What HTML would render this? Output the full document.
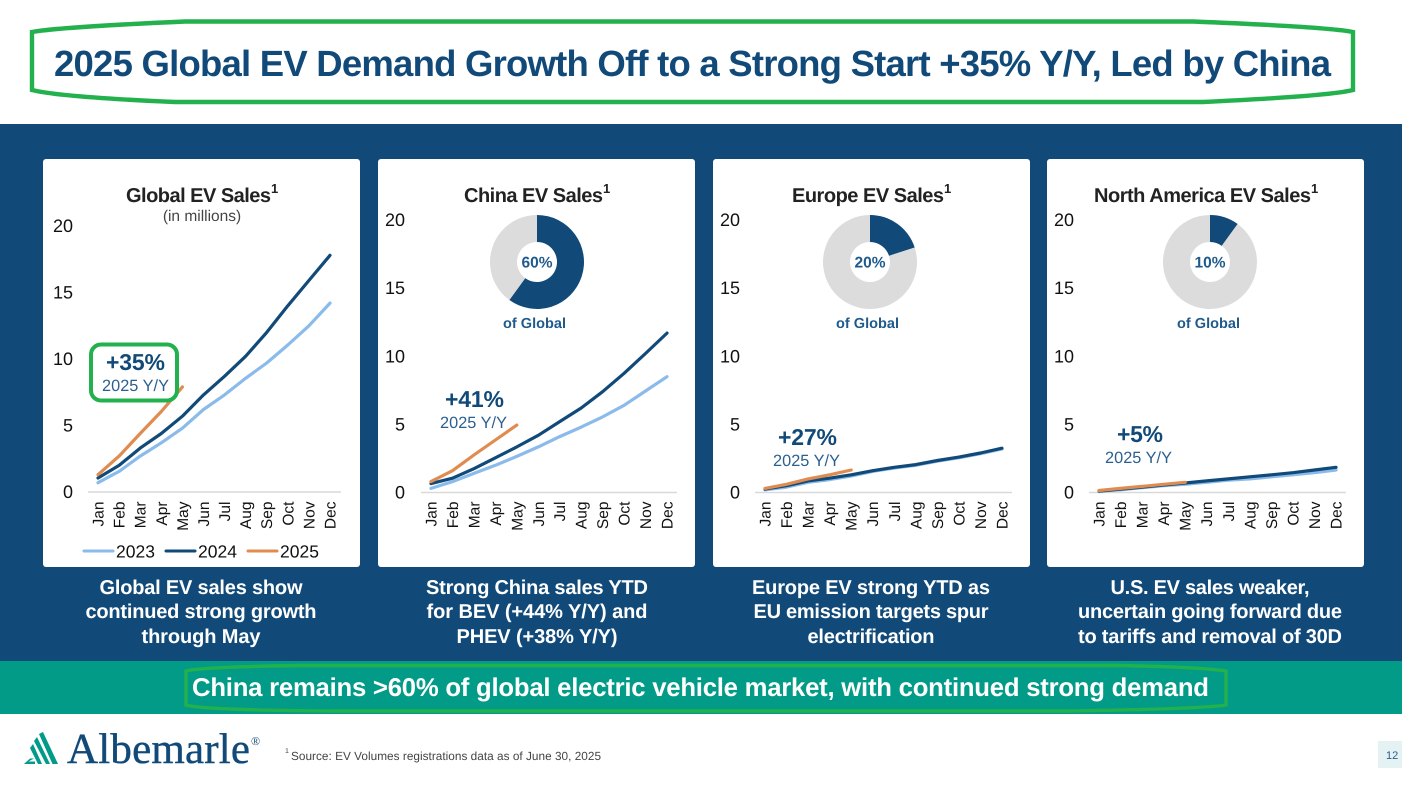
<!DOCTYPE html>
<html lang="en">
<head>
<meta charset="utf-8">
<title>2025 Global EV Demand</title>
<style>
html,body{margin:0;padding:0;background:#fff;width:1402px;height:786px;overflow:hidden}
svg{display:block;text-rendering:geometricPrecision}
text{font-family:"Liberation Sans",Arial,sans-serif}
.b{font-weight:700}
.ct{font-size:20px;font-weight:700;fill:#222}
.cap{font-size:20px;font-weight:700;fill:#fff;text-anchor:middle}
.pct{font-size:23px;font-weight:700;fill:#114a79}
.yy{font-size:16.300px;fill:#2a5f8f}
.og{font-size:14.500px;font-weight:700;fill:#1f5a8c}
</style>
</head>
<body>
<svg id="slide" xmlns="http://www.w3.org/2000/svg" width="1402" height="786" viewBox="0 0 1402 786">
  <rect width="1402" height="786" fill="#fff"/>
  <path d="M32 32 Q60 27 185 21.5 L1193 21.5 Q1330 27 1353 32 L1353 90 Q1330 96 1203 102 L175 102 Q60 97 32 90 Z" fill="none" stroke="#22b14c" stroke-width="4.4"/>
  <text x="54" y="76" class="b" font-size="36.500" fill="#114a79" textLength="1277" lengthAdjust="spacing">2025 Global EV Demand Growth Off to a Strong Start +35% Y/Y, Led by China</text>

  <rect x="0" y="124" width="1402" height="537" fill="#114a79"/>
  <rect x="43" y="159" width="317" height="408" rx="3" fill="#fff"/>
  <rect x="378" y="159" width="317" height="408" rx="3" fill="#fff"/>
  <rect x="713" y="159" width="317" height="408" rx="3" fill="#fff"/>
  <rect x="1047" y="159" width="317" height="408" rx="3" fill="#fff"/>

  <text x="126" y="202" class="ct" textLength="145" lengthAdjust="spacing">Global EV Sales</text>
  <text x="271" y="193" class="b" font-size="13" fill="#222">1</text>
  <text x="202" y="221" font-size="15.500" fill="#444" text-anchor="middle">(in millions)</text>
  <text x="464" y="202" class="ct" textLength="139" lengthAdjust="spacing">China EV Sales</text>
  <text x="603" y="193" class="b" font-size="13" fill="#222">1</text>
  <text x="792" y="202" class="ct" textLength="152" lengthAdjust="spacing">Europe EV Sales</text>
  <text x="944" y="193" class="b" font-size="13" fill="#222">1</text>
  <text x="1094" y="202" class="ct" textLength="217" lengthAdjust="spacing">North America EV Sales</text>
  <text x="1311" y="193" class="b" font-size="13" fill="#222">1</text>

  <g id="charts"></g>

  <rect x="91" y="344.500" width="86" height="56" rx="10" fill="#fff" stroke="#22b14c" stroke-width="4"/>
  <text x="106" y="370" class="pct" textLength="59" lengthAdjust="spacing">+35%</text>
  <text x="102" y="391" class="yy" textLength="67" lengthAdjust="spacing">2025 Y/Y</text>
  <text x="445" y="407" class="pct" textLength="59" lengthAdjust="spacing">+41%</text>
  <text x="440" y="428" class="yy" textLength="67" lengthAdjust="spacing">2025 Y/Y</text>
  <text x="778" y="445" class="pct" textLength="59" lengthAdjust="spacing">+27%</text>
  <text x="773" y="466" class="yy" textLength="67" lengthAdjust="spacing">2025 Y/Y</text>
  <text x="1117" y="442" class="pct" textLength="46" lengthAdjust="spacing">+5%</text>
  <text x="1105" y="463" class="yy" textLength="67" lengthAdjust="spacing">2025 Y/Y</text>

  <text x="503" y="328" class="og" textLength="63" lengthAdjust="spacing">of Global</text>
  <text x="836" y="328" class="og" textLength="63" lengthAdjust="spacing">of Global</text>
  <text x="1177" y="328" class="og" textLength="63" lengthAdjust="spacing">of Global</text>

  <g>
    <text x="201" y="594" class="cap" textLength="203" lengthAdjust="spacing">Global EV sales show</text>
    <text x="201" y="618" class="cap" textLength="231" lengthAdjust="spacing">continued strong growth</text>
    <text x="201" y="643" class="cap" textLength="119" lengthAdjust="spacing">through May</text>
  </g>
  <g>
    <text x="537" y="594" class="cap" textLength="222" lengthAdjust="spacing">Strong China sales YTD</text>
    <text x="537" y="618" class="cap" textLength="221" lengthAdjust="spacing">for BEV (+44% Y/Y) and</text>
    <text x="537" y="643" class="cap" textLength="161" lengthAdjust="spacing">PHEV (+38% Y/Y)</text>
  </g>
  <g>
    <text x="871" y="594" class="cap" textLength="238" lengthAdjust="spacing">Europe EV strong YTD as</text>
    <text x="871" y="618" class="cap" textLength="235" lengthAdjust="spacing">EU emission targets spur</text>
    <text x="871" y="643" class="cap" textLength="127" lengthAdjust="spacing">electrification</text>
  </g>
  <g>
    <text x="1210" y="594" class="cap" textLength="199" lengthAdjust="spacing">U.S. EV sales weaker,</text>
    <text x="1210" y="618" class="cap" textLength="264" lengthAdjust="spacing">uncertain going forward due</text>
    <text x="1210" y="643" class="cap" textLength="264" lengthAdjust="spacing">to tariffs and removal of 30D</text>
  </g>

  <rect x="0" y="661" width="1402" height="53" fill="#029b88"/>
  <path d="M186 671 Q200 667 300 665.5 L1115 665.5 Q1200 667 1226 671 L1226 705 Q1200 709 1070 711 L335 711 Q200 710 186 705 Z" fill="none" stroke="#22b14c" stroke-width="3.400"/>
  <text x="192" y="696" class="b" font-size="25.700" fill="#fff" textLength="1017" lengthAdjust="spacing">China remains &gt;60% of global electric vehicle market, with continued strong demand</text>

  <g>
    <path d="M24 764 L30 758.500 L34 758.500 L28.500 761.500 L35 761.500 L35 764 Z M30 748 L33 744 L42 764 L38 764 Z M34 741 L37 737 L50 764 L46 764 Z M39 734 L43 732 L58 764 L52.500 764 Z" fill="#029b88"/>
    <text x="67" y="763" font-size="43" fill="#114a79" stroke="#114a79" stroke-width="0.400" style="font-family:'Liberation Serif',serif" textLength="183" lengthAdjust="spacing">Albemarle</text>
    <text x="251" y="745" font-size="12" fill="#114a79" style="font-family:'Liberation Serif',serif">®</text>
  </g>
  <text x="285" y="753" font-size="7" fill="#444">1</text>
  <text x="291" y="760" font-size="11.800" fill="#444" textLength="310" lengthAdjust="spacing">Source: EV Volumes registrations data as of June 30, 2025</text>
  <rect x="1378" y="741" width="24" height="27" fill="#e5f2f4"/>
  <text x="1386" y="759" font-size="11" fill="#2a5f8f">12</text>
</svg>

<script>
var categories = ['Jan','Feb','Mar','Apr','May','Jun','Jul','Aug','Sep','Oct','Nov','Dec'];
var yTickLabels = [0, 5, 10, 15, 20];
var legendYears = ['2023', '2024', '2025'];

var global2023 = [0.7, 1.55, 2.7, 3.7, 4.8, 6.2, 7.3, 8.55, 9.7, 11.05, 12.5, 14.2];
var global2024 = [1.05, 2.0, 3.3, 4.4, 5.7, 7.3, 8.7, 10.2, 12.0, 14.0, 15.9, 17.8];
var global2025 = [1.3, 2.7, 4.4, 6.05, 7.9];

var china2023 = [0.3, 0.8, 1.4, 2.0, 2.65, 3.35, 4.1, 4.8, 5.55, 6.4, 7.45, 8.5];
var china2024 = [0.65, 1.05, 1.75, 2.55, 3.35, 4.2, 5.2, 6.2, 7.4, 8.75, 10.2, 11.7];
var china2025 = [0.8, 1.6, 2.75, 3.85, 4.95];

var europe2023 = [0.2, 0.4, 0.75, 0.95, 1.2, 1.55, 1.8, 2.0, 2.3, 2.55, 2.85, 3.2];
var europe2024 = [0.25, 0.5, 0.85, 1.05, 1.3, 1.6, 1.85, 2.05, 2.35, 2.6, 2.9, 3.25];
var europe2025 = [0.3, 0.6, 1.0, 1.3, 1.65];

var northAmerica2023 = [0.1, 0.2, 0.35, 0.5, 0.6, 0.75, 0.9, 1.0, 1.15, 1.3, 1.45, 1.65];
var northAmerica2024 = [0.1, 0.25, 0.4, 0.55, 0.7, 0.85, 1.0, 1.15, 1.3, 1.45, 1.65, 1.85];
var northAmerica2025 = [0.15, 0.3, 0.45, 0.6, 0.75];

var chinaShare = [60, 40];
var europeShare = [20, 80];
var northAmericaShare = [10, 90];

var NS = 'http://www.w3.org/2000/svg';
var COLORS = { y2023: '#8abbea', y2024: '#114a79', y2025: '#e08c50' };
var chartsRoot = document.getElementById('charts');

var panels = [
  { key: 'global', s23: global2023, s24: global2024, s25: global2025, x0: 98, x1: 330, axisL: 88, axisR: 341, y0: 492, y20: 226, labelR: 73 },
  { key: 'china', s23: china2023, s24: china2024, s25: china2025, x0: 431, x1: 667, axisL: 421, axisR: 677, y0: 492.5, y20: 220, labelR: 405 },
  { key: 'europe', s23: europe2023, s24: europe2024, s25: europe2025, x0: 765, x1: 1002, axisL: 755, axisR: 1012, y0: 492.5, y20: 220, labelR: 740 },
  { key: 'north-america', s23: northAmerica2023, s24: northAmerica2024, s25: northAmerica2025, x0: 1099, x1: 1336, axisL: 1089, axisR: 1346, y0: 492.5, y20: 220, labelR: 1074 }
];
var donuts = [
  { key: 'china', values: chinaShare, cx: 537, cy: 262 },
  { key: 'europe', values: europeShare, cx: 870, cy: 262 },
  { key: 'north-america', values: northAmericaShare, cx: 1210, cy: 262 }
];

function make(tag, parent) {
  var el = document.createElementNS(NS, tag);
  parent.appendChild(el);
  return el;
}
function xScale(p, i) {
  return p.x0 + (p.x1 - p.x0) * i / (categories.length - 1);
}
function yScale(p, v) {
  return p.y0 + (p.y20 - p.y0) * v / 20;
}
function seriesPoints(p, values) {
  return values.map(function (v, i) {
    return xScale(p, i).toFixed(1) + ',' + yScale(p, v).toFixed(1);
  }).join(' ');
}

function drawSeries(p, g, values, year, color) {
  var line = make('polyline', g);
  
  
  line.setAttribute('points', seriesPoints(p, values));
  line.setAttribute('fill', 'none');
  line.setAttribute('stroke', color);
  line.setAttribute('stroke-width', '3.2');
  line.setAttribute('stroke-linejoin', 'round');
  line.setAttribute('stroke-linecap', 'round');
}

panels.forEach(function (p) {
  var g = make('g', chartsRoot);
  
  

  var axis = make('line', g);
  
  
  axis.setAttribute('x1', p.axisL);
  axis.setAttribute('x2', p.axisR);
  axis.setAttribute('y1', p.y0);
  axis.setAttribute('y2', p.y0);
  axis.setAttribute('stroke', '#d9d9d9');
  axis.setAttribute('stroke-width', '1.5');

  yTickLabels.forEach(function (t) {
    var tick = make('text', g);
    
    
    tick.setAttribute('x', p.labelR);
    tick.setAttribute('y', yScale(p, t) + 6);
    tick.setAttribute('text-anchor', 'end');
    tick.setAttribute('font-size', '18');
    tick.setAttribute('fill', '#111');
    tick.textContent = t;
  });

  categories.forEach(function (c, i) {
    var label = make('text', g);
    var lx = xScale(p, i) + 5.5;
    
    
    label.setAttribute('transform', 'translate(' + lx + ',501.5) rotate(-90)');
    label.setAttribute('text-anchor', 'end');
    label.setAttribute('font-size', '15.5');
    label.setAttribute('fill', '#111');
    label.textContent = c;
  });

  drawSeries(p, g, p.s23, '2023', COLORS.y2023);
  drawSeries(p, g, p.s24, '2024', COLORS.y2024);
  drawSeries(p, g, p.s25, '2025', COLORS.y2025);
});

function polar(cx, cy, r, frac) {
  var a = 2 * Math.PI * frac - Math.PI / 2;
  return (cx + r * Math.cos(a)).toFixed(2) + ' ' + (cy + r * Math.sin(a)).toFixed(2);
}
donuts.forEach(function (d) {
  var g = make('g', chartsRoot);
  
  
  var total = d.values[0] + d.values[1];
  var share = d.values[0] / total;
  var R = 47, r = 20;
  var sliceColors = ['#114a79', '#dcdcdc'];
  var from = [0, share];
  var to = [share, 1];
  for (var i = 0; i < 2; i++) {
    var arc = make('path', g);
    var large = (to[i] - from[i]) > 0.5 ? 1 : 0;
    
    
    arc.setAttribute('fill', sliceColors[i]);
    arc.setAttribute('d',
      'M' + polar(d.cx, d.cy, R, from[i]) +
      ' A' + R + ' ' + R + ' 0 ' + large + ' 1 ' + polar(d.cx, d.cy, R, to[i]) +
      ' L' + polar(d.cx, d.cy, r, to[i]) +
      ' A' + r + ' ' + r + ' 0 ' + large + ' 0 ' + polar(d.cx, d.cy, r, from[i]) + ' Z');
  }
  var label = make('text', g);
  
  
  label.setAttribute('x', d.cx);
  label.setAttribute('y', d.cy + 5.5);
  label.setAttribute('text-anchor', 'middle');
  label.setAttribute('font-size', '15.5');
  label.setAttribute('font-weight', '700');
  label.setAttribute('fill', '#1f5a8c');
  label.textContent = d.values[0] + '%';
});

var legend = make('g', chartsRoot);


var legendColors = [COLORS.y2023, COLORS.y2024, COLORS.y2025];
legendYears.forEach(function (year, i) {
  var startX = 84 + i * 82;
  var swatch = make('line', legend);
  
  
  swatch.setAttribute('x1', startX);
  swatch.setAttribute('x2', startX + 29);
  swatch.setAttribute('y1', 551);
  swatch.setAttribute('y2', 551);
  swatch.setAttribute('stroke', legendColors[i]);
  swatch.setAttribute('stroke-width', '3');
  swatch.setAttribute('stroke-linecap', 'round');
  var text = make('text', legend);
  
  
  text.setAttribute('x', startX + 32);
  text.setAttribute('y', 557.5);
  text.setAttribute('font-size', '17.5');
  text.setAttribute('fill', '#111');
  text.textContent = year;
});
</script>
</body>
</html>
